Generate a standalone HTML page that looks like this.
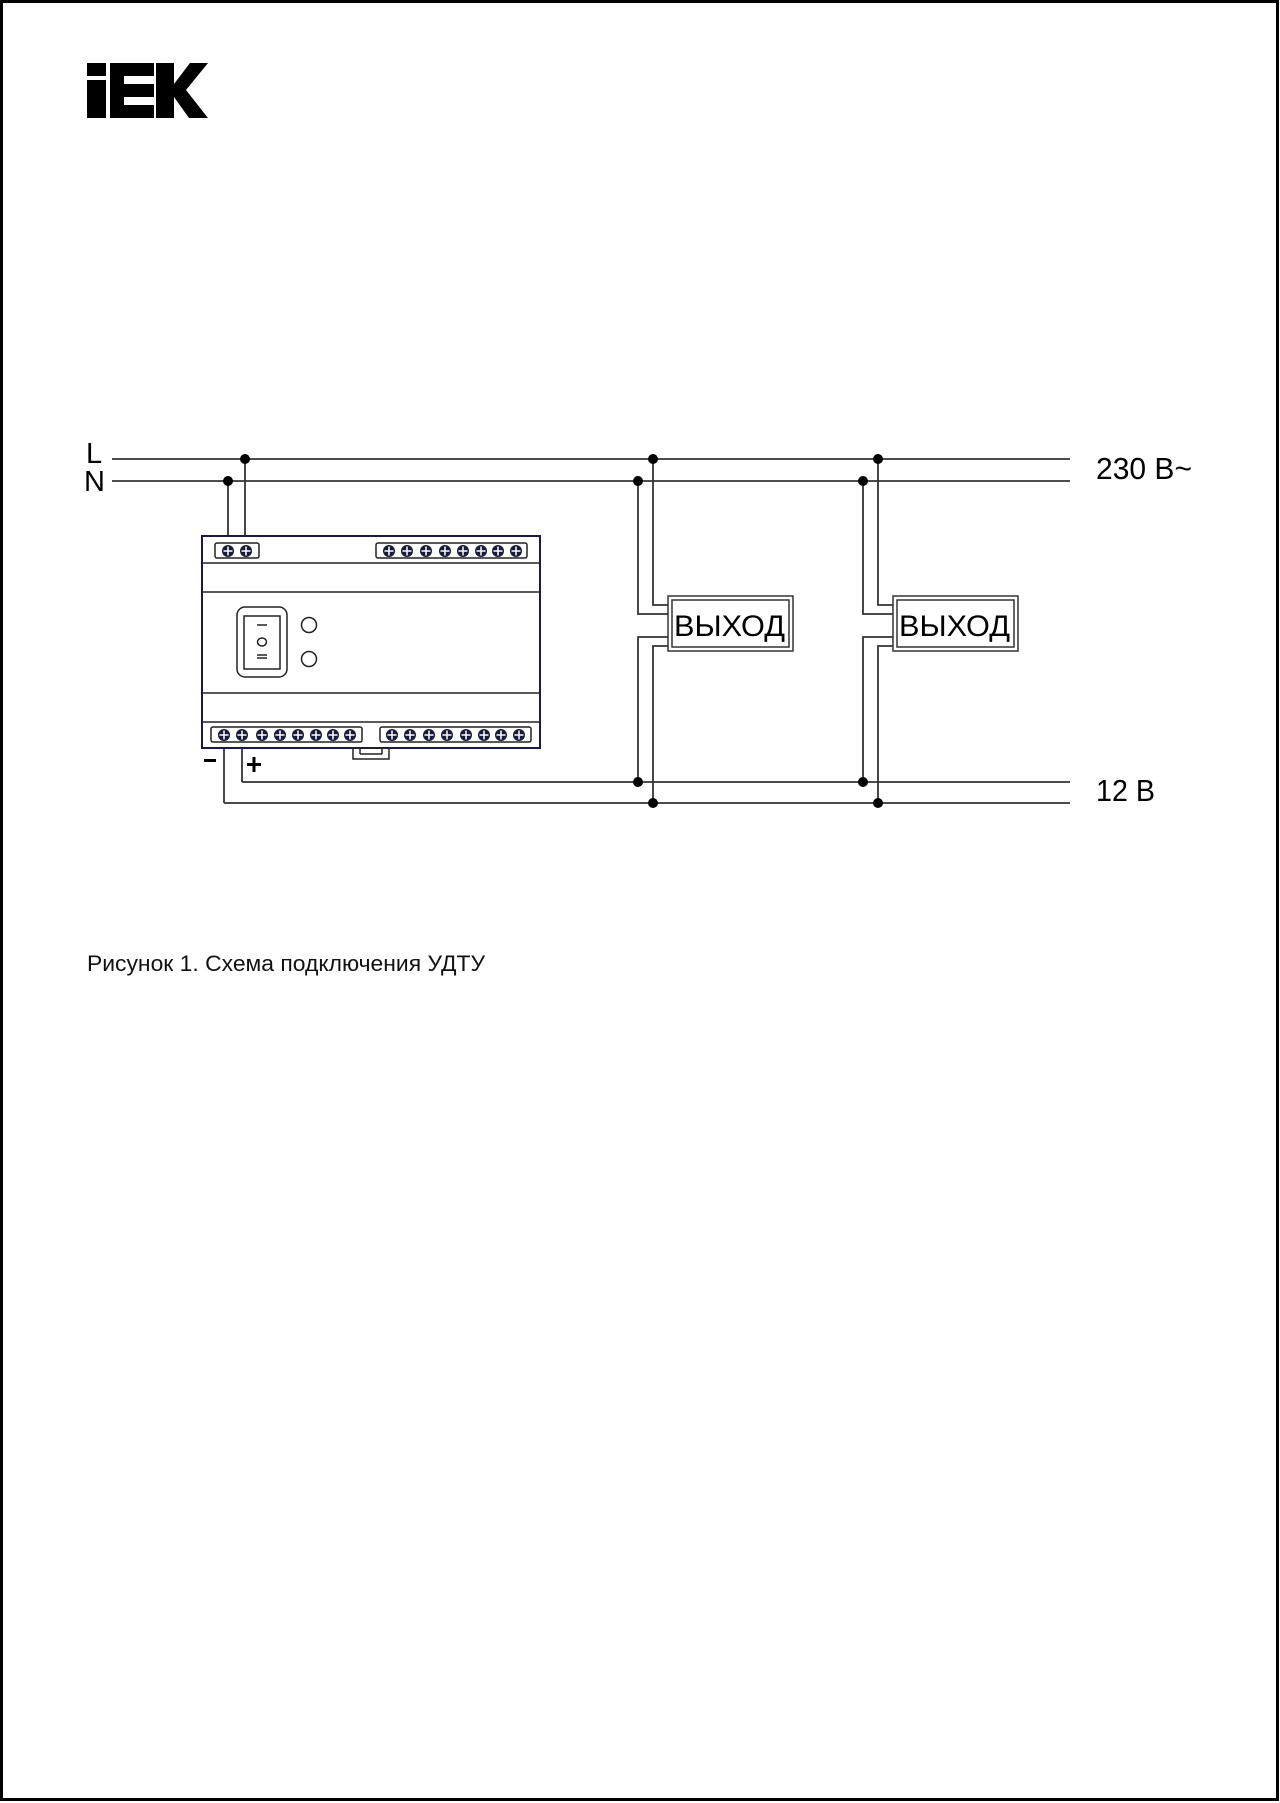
<!DOCTYPE html>
<html><head><meta charset="utf-8"><style>
html,body{margin:0;padding:0;background:#fff;width:1280px;height:1803px;overflow:hidden}
svg{display:block}
</style></head><body>
<svg width="1280" height="1803" viewBox="0 0 1280 1803" xmlns="http://www.w3.org/2000/svg" font-family="'Liberation Sans', sans-serif">
<defs>
<g id="scr"><circle r="6" fill="#1a1a3a"/><path d="M-4.5 0H4.5M0 -4.5V4.5" stroke="#fff" stroke-width="1.5"/></g>
</defs>
<rect x="1.5" y="1.5" width="1276" height="1798" fill="none" stroke="#000" stroke-width="3"/>
<g fill="#000">
<rect x="87" y="63" width="19" height="13"/>
<rect x="87" y="80" width="19" height="38"/>
<rect x="110" y="63" width="44" height="13"/>
<rect x="110" y="84" width="44" height="13"/>
<rect x="110" y="105" width="44" height="13"/>
<rect x="110" y="63" width="14" height="55"/>
<rect x="156" y="63" width="18" height="55"/>
<polygon points="174,84 190,63 208,63 186,90 208,118 189,118 174,97"/>
</g>
<g stroke="#333" stroke-width="1.8" fill="none">
<line x1="112" y1="459" x2="1070" y2="459"/>
<line x1="112" y1="481" x2="1070" y2="481"/>
<line x1="242" y1="782" x2="1070" y2="782"/>
<line x1="224" y1="803" x2="1070" y2="803"/>
<line x1="242" y1="748" x2="242" y2="782"/>
<line x1="224" y1="748" x2="224" y2="803"/>
<line x1="245" y1="459" x2="245" y2="536"/>
<line x1="228" y1="481" x2="228" y2="536"/>
<polyline points="653,459 653,605 668,605"/>
<polyline points="638,481 638,614 668,614"/>
<polyline points="668,637 638,637 638,782"/>
<polyline points="668,646 653,646 653,803"/>
<polyline points="878,459 878,605 893,605"/>
<polyline points="863,481 863,614 893,614"/>
<polyline points="893,637 863,637 863,782"/>
<polyline points="893,646 878,646 878,803"/>
</g>
<g fill="#000">
<circle cx="245" cy="459" r="5"/><circle cx="228" cy="481" r="5"/>
<circle cx="653" cy="459" r="5"/><circle cx="638" cy="481" r="5"/>
<circle cx="638" cy="782" r="5"/><circle cx="653" cy="803" r="5"/>
<circle cx="878" cy="459" r="5"/><circle cx="863" cy="481" r="5"/>
<circle cx="863" cy="782" r="5"/><circle cx="878" cy="803" r="5"/>
</g>
<g fill="#fff" stroke="#333" stroke-width="1.5">
<rect x="668" y="596" width="125" height="55"/>
<rect x="672" y="600" width="117" height="47"/>
<rect x="893" y="596" width="125" height="55"/>
<rect x="897" y="600" width="117" height="47"/>
</g>
<g font-size="30" fill="#000">
<text x="674" y="636" textLength="111" lengthAdjust="spacingAndGlyphs">ВЫХОД</text>
<text x="899" y="636" textLength="111" lengthAdjust="spacingAndGlyphs">ВЫХОД</text>
<text x="1096" y="479" font-size="31" textLength="96" lengthAdjust="spacingAndGlyphs">230 В~</text>
<text x="1096" y="801" font-size="31" textLength="59" lengthAdjust="spacingAndGlyphs">12 В</text>
<text x="86" y="463" font-size="29">L</text>
<text x="84" y="491" font-size="29">N</text>
<text x="87" y="971" font-size="22" textLength="398" lengthAdjust="spacingAndGlyphs" fill="#111">Рисунок 1. Схема подключения УДТУ</text>
</g>
<g stroke="#222" fill="none" stroke-width="1.5">
<rect x="202" y="536" width="338" height="212" stroke="#1a1a4a" stroke-width="2"/>
<line x1="202" y1="563" x2="540" y2="563"/>
<line x1="202" y1="592" x2="540" y2="592"/>
<line x1="202" y1="693" x2="540" y2="693"/>
<line x1="202" y1="722" x2="540" y2="722"/>
<rect x="215" y="543" width="44" height="15" rx="2"/>
<rect x="376" y="543" width="151" height="15" rx="2"/>
<rect x="211" y="727" width="151" height="15" rx="2"/>
<rect x="380" y="727" width="151" height="15" rx="2"/>
<rect x="237" y="607" width="50" height="70" rx="8"/>
<rect x="244" y="616" width="36" height="53"/>
<circle cx="309" cy="625" r="7.5"/>
<circle cx="309" cy="659" r="7.5"/>
<ellipse cx="262" cy="642" rx="4.5" ry="4"/>
<line x1="257" y1="625" x2="267" y2="625"/>
<line x1="257" y1="655" x2="267" y2="655"/>
<line x1="257" y1="658" x2="267" y2="658"/>
<rect x="353" y="748" width="36" height="11"/>
<line x1="360" y1="748" x2="360" y2="754"/><line x1="382" y1="748" x2="382" y2="754"/><line x1="360" y1="754" x2="382" y2="754"/>
</g>
<g>
<use href="#scr" x="228" y="551"/><use href="#scr" x="246" y="551"/>
<use href="#scr" x="389" y="551"/><use href="#scr" x="407" y="551"/><use href="#scr" x="426" y="551"/><use href="#scr" x="445" y="551"/><use href="#scr" x="463" y="551"/><use href="#scr" x="481" y="551"/><use href="#scr" x="498" y="551"/><use href="#scr" x="516" y="551"/>
<use href="#scr" x="224" y="735"/><use href="#scr" x="242" y="735"/><use href="#scr" x="262" y="735"/><use href="#scr" x="280" y="735"/><use href="#scr" x="298" y="735"/><use href="#scr" x="316" y="735"/><use href="#scr" x="333" y="735"/><use href="#scr" x="350" y="735"/>
<use href="#scr" x="392" y="735"/><use href="#scr" x="410" y="735"/><use href="#scr" x="429" y="735"/><use href="#scr" x="447" y="735"/><use href="#scr" x="466" y="735"/><use href="#scr" x="484" y="735"/><use href="#scr" x="501" y="735"/><use href="#scr" x="519" y="735"/>
</g>
<rect x="204" y="759" width="12" height="3" fill="#000"/>
<rect x="247" y="763" width="14" height="3" fill="#000"/>
<rect x="252.5" y="757" width="3" height="15" fill="#000"/>
</svg>
</body></html>
